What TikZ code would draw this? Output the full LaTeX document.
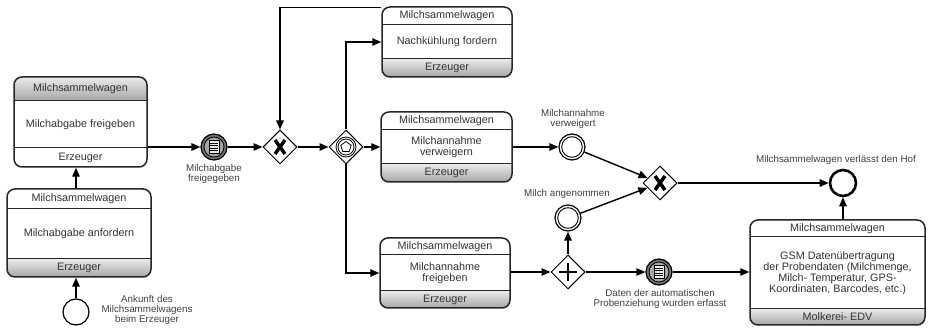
\documentclass[tikz,border=0pt]{standalone}
\usepackage{fontspec}
\setmainfont{Liberation Sans}
\usetikzlibrary{shapes.geometric,arrows.meta}

\tikzset{
 taskframe/.style={draw=black!85, line width=1.5pt, rounded corners=8pt},
 topband/.style={fill=white},
 botband/.style={top color=black!8, bottom color=black!35},
 sepline/.style={draw=black!85, line width=1pt},
 tasktext/.style={font=\fontsize{10.8}{11}\selectfont, align=center, inner sep=0pt, text=black!80},
 lbl/.style={font=\fontsize{9.8}{10.3}\selectfont, align=center, inner sep=0pt, text=black!75},
 flow/.style={draw=black, line width=1.4pt, -{Triangle[length=9pt,width=7.5pt]}},
 gate/.style={diamond, draw, line width=1pt, minimum width=34pt, minimum height=34pt, inner sep=0pt, fill=white, aspect=1},
 evt/.style={circle, draw, line width=1.2pt, minimum size=26pt, inner sep=0pt, fill=white},
 xmark/.style={line width=3.5pt},
 inring/.style={line width=0.9pt},
}

\newcommand{\bpmntask}[9]{%
 \path[fill=white, rounded corners=8pt] (#2,#3) rectangle (#4,#5);
 \begin{scope}
  \clip[rounded corners=8pt] (#2,#3) rectangle (#4,#5);
  \path[topband] (#2,#3) rectangle (#4,#6);
  \path[botband] (#2,#7) rectangle (#4,#5);
 \end{scope}
 \draw[sepline] (#2,#6) -- (#4,#6);
 \draw[sepline] (#2,#7) -- (#4,#7);
 \node[taskframe, rectangle, minimum width={(#4-#2)*1pt}, minimum height={(#5-#3)*1pt}, inner sep=0pt] (#1) at ({(#2+#4)/2},{(#3+#5)/2}) {};
 \node[tasktext] at ({(#2+#4)/2},{(#3+#6)/2}) {Milchsammelwagen};
 \node[tasktext] at ({(#2+#4)/2},{(#6+#7)/2}) {#8};
 \node[tasktext] at ({(#2+#4)/2},{(#7+#5)/2}) {#9};
}

\newcommand{\condmark}[1]{%
 \draw[fill=black!35, line width=0.8pt] (#1) circle (10pt);
 \draw[fill=black!8, line width=0.6pt] ([shift={(-5,-6.5)}]#1.center) rectangle ([shift={(5,6.5)}]#1.center);
 \foreach \dy in {-3.6,-1.2,1.2,3.6}
   \draw[line width=0.6pt] ([shift={(-4,\dy)}]#1.center) -- ([shift={(4,\dy)}]#1.center);
}

\begin{document}
\begin{tikzpicture}[x=1pt,y=-1pt]
\useasboundingbox (0,0) rectangle (932,328);

% tasks
\begin{scope}[topband/.style={top color=black!8, bottom color=black!35}, botband/.style={fill=white}]
\bpmntask{t1}{14}{77}{147}{167}{101}{148}{Milchabgabe freigeben}{Erzeuger}
\end{scope}
\bpmntask{t2}{7}{189}{151}{277}{209}{259}{Milchabgabe anfordern}{Erzeuger}
\bpmntask{t3}{382}{7}{512}{77}{25}{59}{Nachkühlung fordern}{Erzeuger}
\bpmntask{t4}{381}{112}{512}{182}{130}{164}{Milchannahme\\verweigern}{Erzeuger}
\bpmntask{t5}{380}{238}{510}{308}{255}{291}{Milchannahme\\freigeben}{Erzeuger}
\bpmntask{t6}{750}{220}{925}{325}{237}{309}{GSM Datenübertragung\\der Probendaten (Milchmenge,\\Milch- Temperatur, GPS-\\Koordinaten, Barcodes, etc.)}{Molkerei- EDV}

% events
\node[evt] (s1) at (76,312) {};
\node[lbl] (s1l) at (147,310) {Ankunft des\\Milchsammelwagens\\beim Erzeuger};

\node[evt, fill=black!55] (e1) at (214,147) {};
\condmark{e1}
\node[lbl] (e1l) at (214,174) {Milchabgabe\\freigegeben};

\node[evt] (ev2) at (572,147) {};
\draw[inring] (ev2) circle (10.3pt);
\node[lbl] (ev2l) at (573,119) {Milchannahme\\verweigert};

\node[evt] (ev3) at (568,218) {};
\draw[inring] (ev3) circle (10.3pt);
\node[lbl] (ev3l) at (567,194) {Milch angenommen};

\node[evt, fill=black!55] (ev4) at (659,272) {};
\condmark{ev4}
\node[lbl] (ev4l) at (660,299) {Daten der automatischen\\Probenziehung wurden erfasst};

\node[evt, line width=2.6pt] (ev5) at (843,183) {};
\node[lbl] (ev5l) at (836,160) {Milchsammelwagen verlässt den Hof};

% gateways
\node[gate] (g1) at (280,147) {};
\draw[xmark] ([shift={(-5,-7)}]g1.center) -- ([shift={(5,7)}]g1.center);
\draw[xmark] ([shift={(-5,7)}]g1.center) -- ([shift={(5,-7)}]g1.center);

\node[gate] (g2) at (346,147) {};
\draw[line width=0.8pt] (g2) circle (10pt);
\draw[line width=0.8pt] (g2) circle (8pt);
\node[regular polygon, regular polygon sides=5, draw, line width=0.8pt, minimum size=11pt, inner sep=0pt] (g2p) at (g2) {};

\node[gate] (g3) at (660,183) {};
\draw[xmark] ([shift={(-5,-7)}]g3.center) -- ([shift={(5,7)}]g3.center);
\draw[xmark] ([shift={(-5,7)}]g3.center) -- ([shift={(5,-7)}]g3.center);

\node[gate] (g4) at (568,272) {};
\draw[line width=2pt] ([shift={(-9,0)}]g4.center) -- ([shift={(9,0)}]g4.center);
\draw[line width=2pt] ([shift={(0,-9)}]g4.center) -- ([shift={(0,9)}]g4.center);

% connectors
\draw[flow] (s1) -- (s1 |- t2.south);
\draw[flow] (t2.north -| s1) -- (t1.south -| s1);
\draw[flow] (t1.east |- e1) -- (e1);
\draw[flow] (e1) -- (g1);
\draw[flow] (g1) -- (g2);
\draw[flow] (g2) -- (t4);
\draw[flow] (g2.north) |- (t3.west);
\draw[flow] (g2.south) |- (t5.west);
\draw[flow] ([yshift=-1pt]t3.north west) -| (g1.north);
\draw[flow] (t4) -- (ev2);
\draw[flow] (ev2) -- (g3);
\draw[flow] (t5.east |- g4) -- (g4);
\draw[flow] (g4) -- (ev3);
\draw[flow] (ev3) -- (g3);
\draw[flow] (g4) -- (ev4);
\draw[flow] (ev4) -- (ev4 -| t6.west);
\draw[flow] (g3) -- (ev5);
\draw[flow] (ev5 |- t6.north) -- (ev5);
\end{tikzpicture}
\end{document}
